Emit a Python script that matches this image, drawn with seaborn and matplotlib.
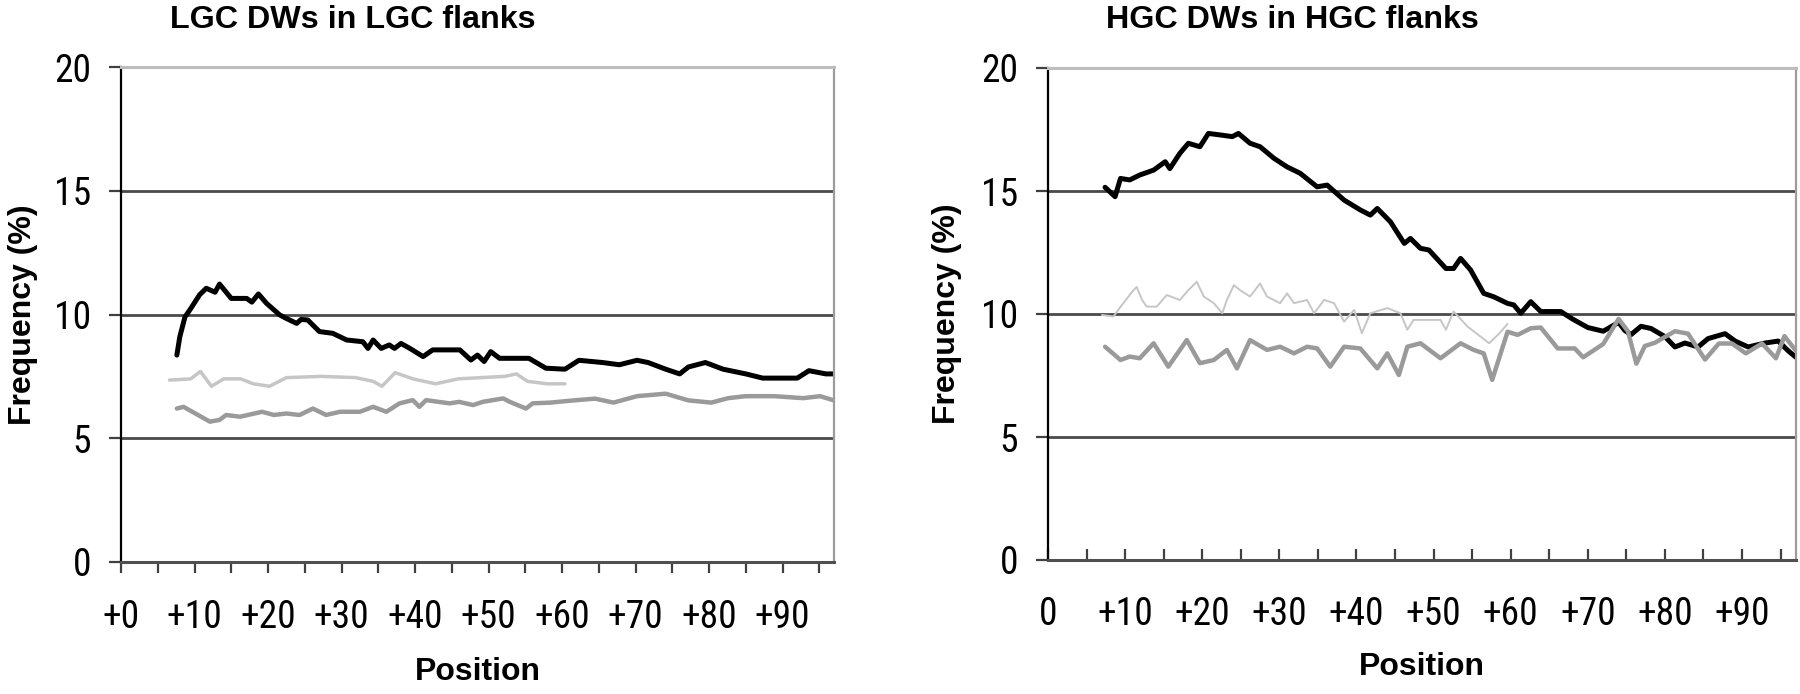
import matplotlib
matplotlib.use("Agg")
import matplotlib.pyplot as plt
from matplotlib import font_manager as fm
import pandas as pd
import seaborn as sns

# ---------------- data ----------------
lgc_black_pos = [7.6, 8.0, 8.7, 9.4, 10.7, 11.6, 12.8, 13.4, 15.0, 17.1, 17.8, 18.7, 19.8, 21.6, 22.5,
                 23.9, 24.5, 25.4, 27.0, 28.8, 30.7, 32.9, 33.6, 34.3, 35.4, 36.5, 37.2, 38.1, 39.3,
                 41.1, 42.4, 46.1, 47.6, 48.5, 49.4, 50.3, 51.5, 55.5, 57.8, 60.4, 62.3, 65.5, 67.8,
                 70.2, 71.7, 74.1, 76.0, 77.2, 79.5, 81.9, 85.0, 87.3, 92.0, 93.6, 95.9, 97.0]
lgc_black_val = [8.36, 9.1, 9.9, 10.2, 10.8, 11.06, 10.9, 11.23, 10.65, 10.65, 10.5, 10.83, 10.45, 9.98, 9.84,
                 9.64, 9.8, 9.78, 9.31, 9.24, 8.97, 8.9, 8.63, 8.97, 8.63, 8.77, 8.63, 8.83, 8.63,
                 8.3, 8.57, 8.57, 8.16, 8.36, 8.1, 8.5, 8.23, 8.23, 7.83, 7.79, 8.15, 8.06, 7.97,
                 8.15, 8.06, 7.79, 7.6, 7.88, 8.06, 7.79, 7.6, 7.43, 7.43, 7.73, 7.6, 7.6]

lgc_light_pos = [6.6, 9.5, 10.8, 12.3, 14.0, 16.3, 18.0, 20.2, 22.5, 27.2, 31.9, 34.3, 35.5, 37.3,
                 39.7, 42.8, 45.9, 52.2, 53.8, 55.3, 58.0, 60.4]
lgc_light_val = [7.35, 7.4, 7.7, 7.1, 7.4, 7.4, 7.2, 7.1, 7.45, 7.5, 7.45, 7.3, 7.1, 7.65,
                 7.4, 7.2, 7.4, 7.5, 7.6, 7.3, 7.2, 7.2]

lgc_mid_pos = [7.6, 8.5, 12.1, 13.4, 14.3, 16.2, 19.2, 20.8, 22.5, 24.3, 26.1, 27.9, 29.8, 32.5,
               34.3, 36.1, 37.9, 39.7, 40.6, 41.5, 44.7, 46.0, 47.9, 49.2, 52.0, 52.9, 55.1, 56.0,
               58.4, 61.6, 64.5, 67.0, 70.2, 74.1, 77.2, 80.3, 82.6, 85.0, 88.9, 92.8, 95.1, 97.0]
lgc_mid_val = [6.2, 6.27, 5.67, 5.74, 5.94, 5.87, 6.07, 5.94, 6.0, 5.94, 6.2, 5.94, 6.07, 6.07,
               6.27, 6.07, 6.41, 6.54, 6.27, 6.54, 6.41, 6.47, 6.34, 6.47, 6.61, 6.47, 6.2, 6.41,
               6.44, 6.53, 6.6, 6.44, 6.7, 6.8, 6.53, 6.44, 6.62, 6.7, 6.7, 6.62, 6.7, 6.53]

hgc_black_pos = [7.4, 8.7, 9.4, 10.6, 11.9, 13.7, 15.2, 15.8, 17.1, 18.2, 19.7, 20.8, 22.3, 23.9,
                 24.7, 26.2, 27.5, 29.3, 31.0, 32.7, 34.9, 36.2, 38.4, 40.5, 41.8, 42.7, 44.4,
                 46.2, 47.0, 48.3, 49.4, 51.6, 52.6, 53.5, 54.8, 56.5, 57.8, 59.6, 60.4, 61.3,
                 62.6, 63.9, 66.5, 68.0, 70.0, 72.0, 74.0, 74.8, 75.6, 76.9, 78.2, 80.0, 81.3,
                 82.6, 84.3, 85.6, 87.8, 89.1, 90.8, 93.0, 94.7, 96.0, 97.0]
hgc_black_val = [15.15, 14.77, 15.51, 15.45, 15.65, 15.85, 16.19, 15.91, 16.53, 16.94, 16.8, 17.34,
                 17.28, 17.21, 17.34, 16.94, 16.8, 16.33, 15.98, 15.72, 15.17, 15.24, 14.63, 14.23,
                 14.02, 14.29, 13.75, 12.87, 13.07, 12.67, 12.6, 11.85, 11.85, 12.26, 11.79, 10.84,
                 10.7, 10.43, 10.37, 10.03, 10.5, 10.1, 10.1, 9.8, 9.45, 9.3, 9.66, 9.33, 9.16,
                 9.5, 9.41, 9.08, 8.66, 8.82, 8.66, 9.0, 9.2, 8.9, 8.66, 8.82, 8.9, 8.5, 8.24]

hgc_light_pos = [7.0, 8.5, 9.4, 10.9, 11.5, 12.2, 12.8, 14.1, 15.4, 17.1, 18.2, 19.3, 20.2, 21.5,
                 22.6, 23.2, 24.1, 24.9, 26.2, 27.5, 28.4, 30.1, 31.0, 31.9, 33.6, 34.5, 35.8,
                 37.1, 38.4, 39.7, 40.7, 41.8, 44.0, 45.7, 46.6, 47.4, 49.2, 50.9, 51.6, 52.6,
                 54.4, 56.1, 57.2, 58.5, 59.6]
hgc_light_val = [9.96, 9.9, 10.29, 10.9, 11.1, 10.57, 10.3, 10.3, 10.77, 10.57, 10.97, 11.31, 10.71,
                 10.44, 10.03, 10.57, 11.17, 10.97, 10.71, 11.24, 10.71, 10.44, 10.84, 10.44, 10.57,
                 10.03, 10.57, 10.44, 9.69, 10.17, 9.22, 10.03, 10.24, 10.03, 9.36, 9.76, 9.76,
                 9.76, 9.36, 10.1, 9.49, 9.08, 8.81, 9.2, 9.6]

hgc_mid_pos = [7.4, 9.4, 10.6, 11.9, 13.7, 15.6, 18.0, 19.7, 21.5, 23.2, 24.5, 26.2, 28.4, 30.1,
               31.9, 33.6, 34.9, 36.6, 38.4, 40.5, 42.7, 44.0, 45.5, 46.6, 48.3, 50.9, 53.5, 55.2,
               56.5, 57.6, 58.7, 59.6, 60.9, 62.6, 63.9, 66.1, 68.3, 69.4, 72.0, 74.0, 75.2,
               76.3, 77.4, 78.7, 81.3, 83.0, 85.2, 87.0, 88.7, 90.5, 92.6, 94.4, 95.5, 97.0]
hgc_mid_val = [8.67, 8.13, 8.27, 8.2, 8.81, 7.86, 8.94, 8.0, 8.13, 8.54, 7.79, 8.94, 8.54, 8.67,
               8.4, 8.67, 8.6, 7.86, 8.67, 8.6, 7.79, 8.4, 7.52, 8.67, 8.81, 8.2, 8.81, 8.54,
               8.4, 7.32, 8.4, 9.28, 9.15, 9.42, 9.45, 8.6, 8.6, 8.24, 8.78, 9.8, 9.3,
               7.98, 8.7, 8.83, 9.3, 9.2, 8.15, 8.8, 8.8, 8.4, 8.8, 8.2, 9.1, 8.5]

titles = ["LGC DWs in LGC flanks", "HGC DWs in HGC flanks"]
y_ticks = [0, 5, 10, 15, 20]
x_ticks = list(range(0, 96, 5))
x_labels_left = ["+0" if t == 0 else (f"+{t}" if t % 10 == 0 else "") for t in x_ticks]
x_labels_right = ["0" if t == 0 else (f"+{t}" if t % 10 == 0 else "") for t in x_ticks]
y_title = "Frequency (%)"
x_title = "Position"

# ---------------- fonts ----------------
sns.set_style("white")


def find_family(names):
    for n in names:
        try:
            fm.findfont(fm.FontProperties(family=n), fallback_to_default=False)
            return n
        except Exception:
            pass
    return "DejaVu Sans"


SANS = find_family(["Liberation Sans", "Arial", "DejaVu Sans"])
plt.rcParams["font.family"] = [SANS, "DejaVu Sans"]

# look for a narrow / condensed regular face for the tick numbers
narrow_fp = None
pref = ["Liberation Sans Narrow", "Arial Narrow", "Roboto Condensed", "Open Sans Condensed",
        "Noto Sans Condensed", "Noto Sans", "Roboto", "Open Sans", "DejaVu Sans"]
cands = []
for f in fm.fontManager.ttflist:
    nm = f.name
    is_narrow = ("Narrow" in nm or "Condensed" in nm or
                 f.stretch in ("condensed", "semi-condensed", "extra-condensed"))
    if is_narrow and f.style == "normal" and f.weight in (400, "normal", "regular"):
        rank = next((i for i, p in enumerate(pref) if nm.startswith(p)), len(pref))
        cands.append((rank, f.fname))
if cands:
    cands.sort()
    narrow_fp = fm.FontProperties(fname=cands[0][1])
else:
    narrow_fp = fm.FontProperties(family=SANS)

fig = plt.figure(figsize=(18, 6.94), dpi=100)
renderer = fig.canvas.get_renderer()


def text_width(txt, fp, size):
    p = fp.copy()
    p.set_size(size)
    t = fig.text(0, 0, txt, fontproperties=p)
    w = t.get_window_extent(renderer).width
    t.remove()
    return w


# size tick numbers so that "+90" is ~56 px wide (capped at a 27 pt)
tick_size = min(27.0, 10.0 * 56.0 / text_width("+90", narrow_fp, 10.0))
bold_fp = fm.FontProperties(family=SANS, weight="bold")
title_size = 10.0 * 366.0 / text_width(titles[0], bold_fp, 10.0)

axL = fig.add_axes([121 / 1800, 132 / 694, 713 / 1800, 495 / 694])
axR = fig.add_axes([1048 / 1800, 134 / 694, 748 / 1800, 492 / 694])

panels = [
    (axL, titles[0], x_labels_left, "out", 0.069, 1.095,
     (lgc_black_pos, lgc_black_val), (lgc_light_pos, lgc_light_val), (lgc_mid_pos, lgc_mid_val), 2.5),
    (axR, titles[1], x_labels_right, "in", 0.078, 1.0976,
     (hgc_black_pos, hgc_black_val), (hgc_light_pos, hgc_light_val), (hgc_mid_pos, hgc_mid_val), 1.4),
]

for ax, title, xlabels, xdir, tx, ty, blk, lgt, mid, light_lw in panels:
    for v in (5, 10, 15):
        ax.axhline(v, color="#4a4a4a", lw=2.0, zorder=1)

    df_b = pd.DataFrame({"pos": blk[0], "val": blk[1]})
    df_l = pd.DataFrame({"pos": lgt[0], "val": lgt[1]})
    df_m = pd.DataFrame({"pos": mid[0], "val": mid[1]})
    sns.lineplot(data=df_b, x="pos", y="val", ax=ax, color="black", lw=3.6,
                 estimator=None, sort=False, zorder=4, solid_joinstyle="round")
    sns.lineplot(data=df_l, x="pos", y="val", ax=ax, color="#c6c6c6", lw=light_lw,
                 estimator=None, sort=False, zorder=3, solid_joinstyle="round")
    sns.lineplot(data=df_m, x="pos", y="val", ax=ax, color="#9a9a9a", lw=3.2,
                 estimator=None, sort=False, zorder=5, solid_joinstyle="round")

    ax.set_xlim(0, 97)
    ax.set_ylim(0, 20)
    ax.set_yticks(y_ticks)
    ax.set_yticklabels([str(t) for t in y_ticks])
    ax.set_xticks(x_ticks)
    ax.set_xticklabels(xlabels)

    ax.spines["top"].set_color("#bdbdbd")
    ax.spines["top"].set_linewidth(2.2)
    ax.spines["right"].set_color("#9c9c9c")
    ax.spines["right"].set_linewidth(1.6)
    ax.spines["left"].set_color("black")
    ax.spines["left"].set_linewidth(1.6)
    ax.spines["bottom"].set_color("#505050")
    ax.spines["bottom"].set_linewidth(2.2)
    for s in ax.spines.values():
        s.set_zorder(6)

    ax.tick_params(axis="x", direction=xdir, length=8, width=1.6, color="#404040",
                   labelcolor="black", pad=(19 if xdir == "out" else 26), bottom=True)
    ax.tick_params(axis="y", direction="out", length=8.5, width=1.6, color="#404040",
                   labelcolor="black", pad=13, left=True)
    for lbl in ax.get_xticklabels() + ax.get_yticklabels():
        p = narrow_fp.copy()
        p.set_size(tick_size)
        lbl.set_fontproperties(p)

    ax.set_title(title, loc="left", x=tx, y=ty, pad=0, va="center",
                 fontsize=title_size, fontweight="bold", color="black")
    ax.set_xlabel(x_title, fontsize=23, fontweight="bold", color="black")
    ax.set_ylabel(y_title, fontsize=23, fontweight="bold", color="black")
    ax.xaxis.label.set_va("center")
    ax.yaxis.label.set_va("center")

axL.xaxis.set_label_coords(0.5, -0.222)
axR.xaxis.set_label_coords(0.5, -0.217)
axL.yaxis.set_label_coords(-0.137, 0.5)
axR.yaxis.set_label_coords(-0.135, 0.5)

fig.savefig("out.png", dpi=100, facecolor="white")
